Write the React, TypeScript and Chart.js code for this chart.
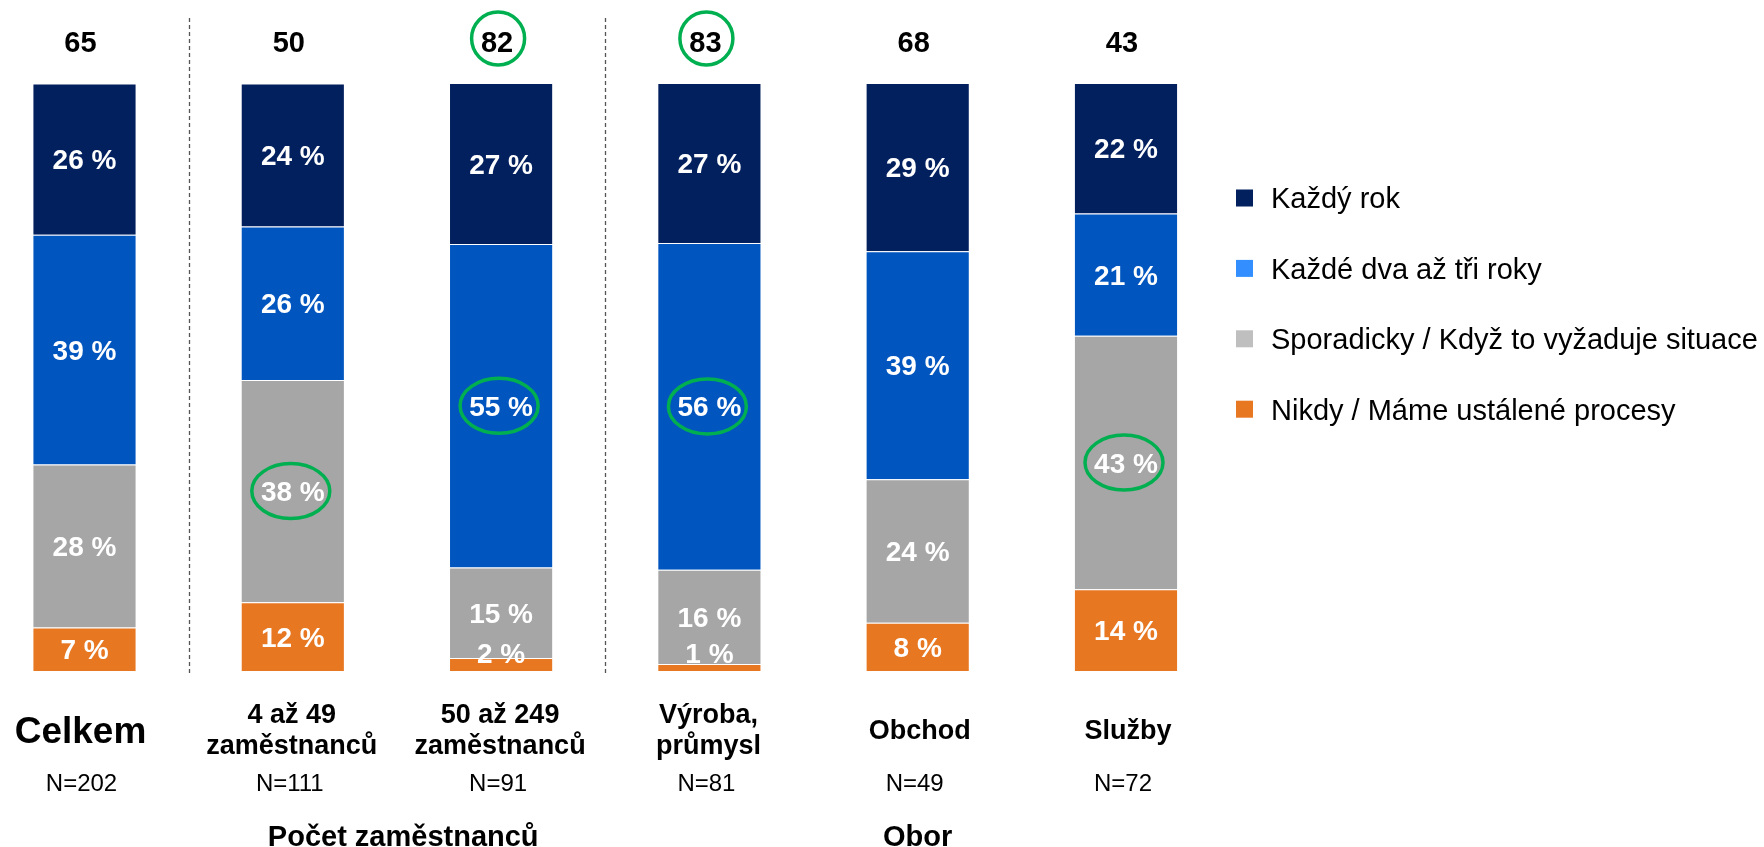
import React, { useEffect, useRef } from "react";
import { Chart, registerables } from "chart.js";

Chart.register(...registerables);

// ---------- data ----------
const categories: string[][] = [
  ["Celkem"],
  ["4 až 49", "zaměstnanců"],
  ["50 až 249", "zaměstnanců"],
  ["Výroba,", "průmysl"],
  ["Obchod"],
  ["Služby"],
];
const sampleSizes = [202, 111, 91, 81, 49, 72];
const topScores = [65, 50, 82, 83, 68, 43];

const seriesNames = [
  "Každý rok",
  "Každé dva až tři roky",
  "Sporadicky / Když to vyžaduje situace",
  "Nikdy / Máme ustálené procesy",
];
const everyYear = [25.7, 24.3, 27.4, 27.2, 28.6, 22.2];
const everyTwoThreeYears = [39.1, 26.1, 55.0, 55.6, 38.8, 20.8];
const sporadically = [27.7, 37.8, 15.4, 16.0, 24.4, 43.1];
const never = [7.4, 11.7, 2.2, 1.2, 8.2, 13.9];

const barColors = ["#021F5E", "#0055BF", "#A6A6A6", "#E87722"];
const legendColors = ["#021F5E", "#338FFF", "#BFBFBF", "#E87722"];

const groupLabels = ["Počet zaměstnanců", "Obor"];
const groupPositions = [1.53, 4];
const separatorPositions = [0.5, 2.5];
const highlightedTop = [2, 3];
// [series index (0 = Každý rok), category index]
const highlightedSegments: [number, number][] = [
  [2, 1],
  [1, 2],
  [1, 3],
  [2, 5],
];

// ---------- styling ----------
const FONT = '"Liberation Sans", Arial, Helvetica, sans-serif';
const GREEN = "#00B050";

const seriesValues = [everyYear, everyTwoThreeYears, sporadically, never];

const overlayPlugin = {
  id: "overlay",
  afterDatasetsDraw(chart: any) {
    const ctx: CanvasRenderingContext2D = chart.ctx;
    const xs = chart.scales.x;
    const ys = chart.scales.y;
    const bottom = ys.getPixelForValue(0);
    const top = ys.getPixelForValue(100);
    const nSeries = chart.data.datasets.length;

    ctx.save();

    // separators
    ctx.strokeStyle = "#555555";
    ctx.lineWidth = 1.3;
    ctx.setLineDash([4, 3]);
    separatorPositions.forEach((p) => {
      const x = Math.round(xs.getPixelForValue(p)) + 0.5;
      ctx.beginPath();
      ctx.moveTo(x, 18);
      ctx.lineTo(x, bottom + 2);
      ctx.stroke();
    });
    ctx.setLineDash([]);

    // segment labels
    ctx.textAlign = "center";
    ctx.textBaseline = "alphabetic";
    ctx.font = `bold 28px ${FONT}`;
    chart.data.datasets.forEach((ds: any, d: number) => {
      const meta = chart.getDatasetMeta(d);
      const seriesIdx = nSeries - 1 - d;
      meta.data.forEach((el: any, i: number) => {
        const v = ds.data[i];
        const p = el.getProps(["x", "y", "base"], true);
        let cy = (p.y + p.base) / 2;
        cy = Math.min(cy, bottom - 18);
        ctx.fillStyle = "#FFFFFF";
        ctx.fillText(`${Math.round(v)} %`, p.x, cy + 10);
        if (highlightedSegments.some(([s, c]) => s === seriesIdx && c === i)) {
          ctx.strokeStyle = GREEN;
          ctx.lineWidth = 3.5;
          ctx.beginPath();
          ctx.ellipse(p.x - 2, cy, 39, 27.5, 0, 0, Math.PI * 2);
          ctx.stroke();
        }
      });
    });

    // top scores
    ctx.fillStyle = "#000000";
    ctx.font = `bold 29px ${FONT}`;
    topScores.forEach((s, i) => {
      const x = xs.getPixelForValue(i) - 4;
      ctx.fillText(String(s), x, top - 31);
      if (highlightedTop.includes(i)) {
        ctx.strokeStyle = GREEN;
        ctx.lineWidth = 3.5;
        ctx.beginPath();
        ctx.arc(x + 1, top - 44.4, 26.5, 0, Math.PI * 2);
        ctx.stroke();
      }
    });

    // category labels
    categories.forEach((lines, i) => {
      const x = xs.getPixelForValue(i);
      ctx.fillStyle = "#000000";
      if (lines.length === 1) {
        if (i === 0) {
          ctx.font = `bold 37px ${FONT}`;
          ctx.fillText(lines[0], x - 4, bottom + 71.7);
        } else {
          ctx.font = `bold 27px ${FONT}`;
          ctx.fillText(lines[0], x + 2, bottom + 68);
        }
      } else {
        ctx.font = `bold 27px ${FONT}`;
        ctx.fillText(lines[0], x - 1, bottom + 51.7);
        ctx.fillText(lines[1], x - 1, bottom + 83);
      }
      ctx.font = `24px ${FONT}`;
      ctx.fillText(`N=${sampleSizes[i]}`, x - 3, bottom + 119.7);
    });

    // group labels
    ctx.font = `bold 29px ${FONT}`;
    groupLabels.forEach((g, k) => {
      ctx.fillText(g, xs.getPixelForValue(groupPositions[k]), bottom + 174.5);
    });

    // legend
    const legendX = 1236;
    const legendY0 = 198;
    const legendStep = 70.4;
    ctx.textAlign = "left";
    ctx.font = `29px ${FONT}`;
    seriesNames.forEach((name, k) => {
      const cy = legendY0 + k * legendStep;
      ctx.fillStyle = legendColors[k];
      ctx.fillRect(legendX, cy - 8.5, 17, 17);
      ctx.fillStyle = "#000000";
      ctx.fillText(name, legendX + 35, cy + 10.4);
    });

    ctx.restore();
  },
};

export default function App() {
  const canvasRef = useRef<HTMLCanvasElement | null>(null);

  useEffect(() => {
    if (!canvasRef.current) return;
    // stacked bottom-to-top: Nikdy, Sporadicky, Každé dva až tři roky, Každý rok
    const order = [3, 2, 1, 0];
    const datasets = order.map((s) => ({
      label: seriesNames[s],
      data: seriesValues[s],
      backgroundColor: barColors[s],
      borderColor: "rgba(255,255,255,0.35)",
      borderWidth: 1,
      barPercentage: 0.5,
      categoryPercentage: 1.0,
      clip: false,
    }));

    const chart = new Chart(canvasRef.current, {
      type: "bar",
      data: { labels: categories.map((c) => c.join(" ")), datasets },
      options: {
        responsive: false,
        animation: false,
        devicePixelRatio: 1,
        layout: { padding: { top: 83, bottom: 176, left: 84.5, right: 638 } },
        scales: {
          x: {
            type: "category",
            stacked: true,
            offset: false,
            display: false,
            grid: { display: false },
          },
          y: {
            stacked: true,
            min: 0,
            max: 100,
            display: false,
            grid: { display: false },
          },
        },
        plugins: {
          legend: { display: false },
          tooltip: { enabled: false },
          title: { display: false },
        },
      },
      plugins: [overlayPlugin],
    } as any);

    return () => chart.destroy();
  }, []);

  return (
    <div
      style={{
        position: "fixed",
        left: 0,
        top: 0,
        width: 1764,
        height: 847,
        background: "#FFFFFF",
      }}
    >
      <canvas
        ref={canvasRef}
        width={1764}
        height={847}
        style={{ display: "block", width: 1764, height: 847 }}
      />
    </div>
  );
}
